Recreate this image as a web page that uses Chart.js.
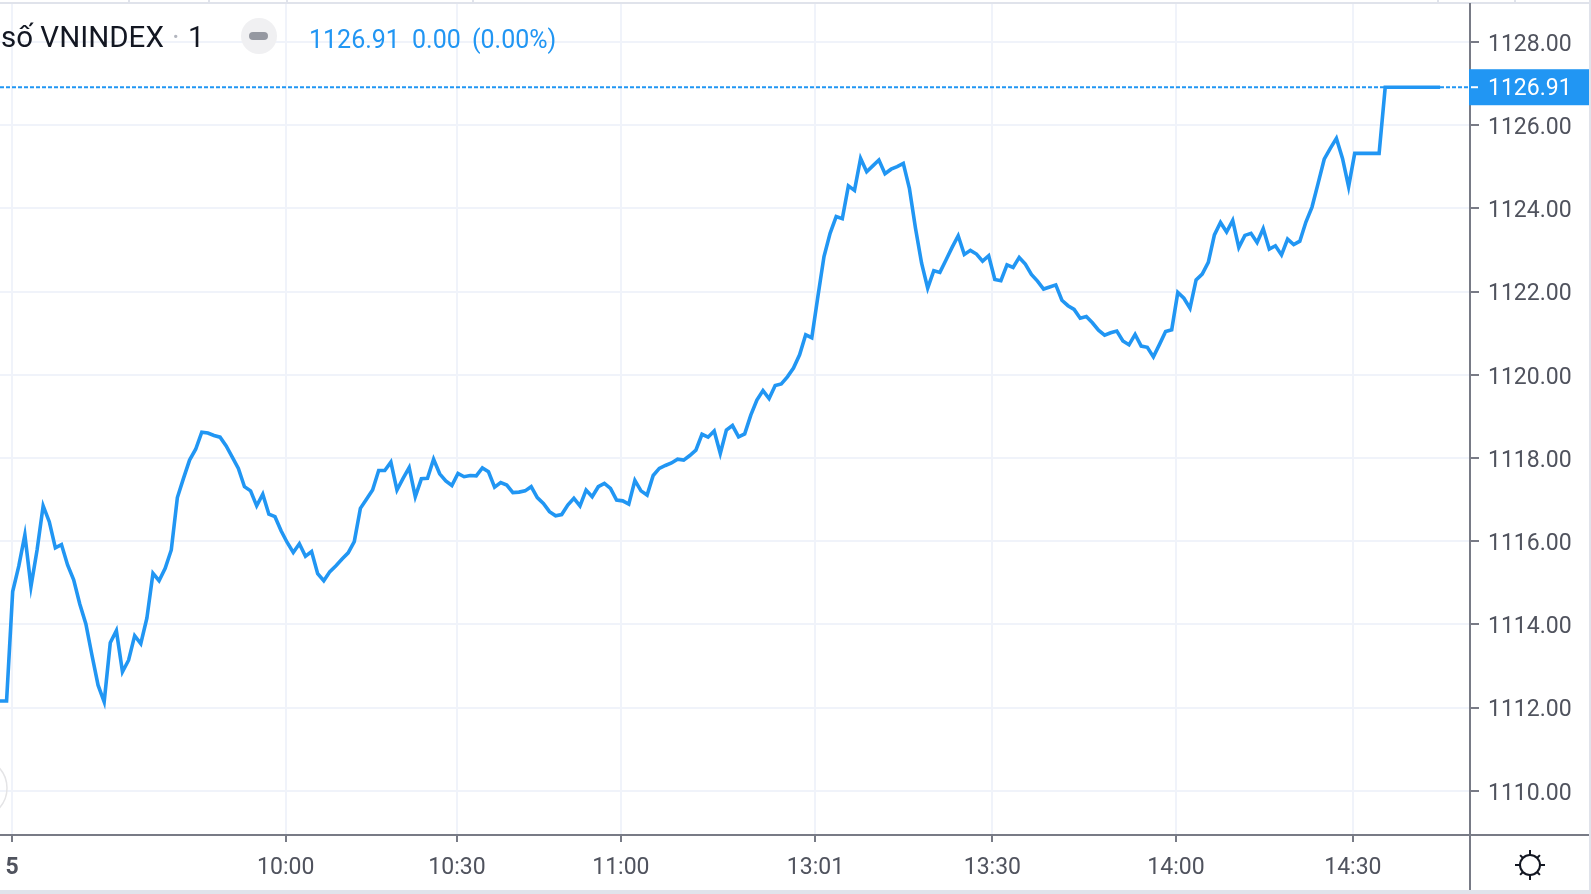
<!DOCTYPE html>
<html>
<head>
<meta charset="utf-8">
<script src="https://cdn.jsdelivr.net/npm/chart.js@4"></script>
<style>
html,body{margin:0;padding:0;background:#fff;overflow:hidden}
#wrap{position:relative;width:1591px;height:894px}
canvas{position:absolute;left:0;top:0}
.t{position:absolute;font-family:Roboto,sans-serif;white-space:pre;line-height:1}
.blue{color:#2196f3;font-size:25px;top:27px}
</style>
</head>
<body>
<div id="wrap">
<canvas id="c" width="1591" height="894"></canvas>
<span class="t" style="left:1px;top:23px;font-size:29.5px;color:#131722">số VNINDEX</span>
<span class="t" style="left:172px;top:23px;font-size:29px;color:#b2b5be">·</span>
<span class="t" style="left:188px;top:23px;font-size:29px;color:#131722">1</span>
<span class="t blue" style="left:309px">1126.91</span>
<span class="t blue" style="left:412px">0.00</span>
<span class="t blue" style="left:472px">(0.00%)</span>
</div>
<script>
const tickLabels = ['5','10:00','10:30','11:00','13:01','13:30','14:00','14:30'];
const tickBars = [-0.1,44.76,72.84,99.7,131.6,160.6,190.7,219.7];
const firstBar = -3;
const closes = [
1112.16,1112.16,1112.16,
1114.79,1115.40,1116.15,1114.91,1115.79,1116.85,1116.47,1115.84,1115.92,1115.43,
1115.07,1114.49,1114.01,1113.26,1112.54,1112.14,1113.56,1113.85,1112.86,1113.14,
1113.73,1113.54,1114.15,1115.23,1115.05,1115.35,1115.79,1117.05,1117.51,1117.95,
1118.21,1118.62,1118.60,1118.54,1118.50,1118.29,1118.02,1117.75,1117.31,1117.21,
1116.85,1117.13,1116.65,1116.59,1116.25,1115.97,1115.73,1115.94,1115.64,1115.75,
1115.22,1115.05,1115.27,1115.41,1115.57,1115.72,1115.99,1116.79,1117.01,1117.23,
1117.70,1117.70,1117.90,1117.23,1117.51,1117.77,1117.07,1117.50,1117.51,1117.97,
1117.62,1117.45,1117.34,1117.63,1117.55,1117.58,1117.57,1117.76,1117.67,1117.30,
1117.41,1117.35,1117.17,1117.18,1117.21,1117.31,1117.05,1116.91,1116.71,1116.61,
1116.64,1116.87,1117.03,1116.85,1117.23,1117.07,1117.31,1117.39,1117.27,1116.99,
1116.97,1116.89,1117.46,1117.21,1117.11,1117.58,1117.75,1117.82,1117.88,1117.97,
1117.95,1118.06,1118.19,1118.57,1118.50,1118.65,1118.11,1118.67,1118.78,1118.51,
1118.58,1119.03,1119.39,1119.62,1119.43,1119.74,1119.78,1119.95,1120.16,1120.48,
1120.96,1120.89,1121.88,1122.84,1123.40,1123.80,1123.75,1124.54,1124.43,1125.20,
1124.88,1125.02,1125.16,1124.83,1124.94,1125.00,1125.08,1124.48,1123.52,1122.68,
1122.08,1122.50,1122.46,1122.76,1123.06,1123.34,1122.89,1122.99,1122.90,1122.73,
1122.86,1122.29,1122.26,1122.64,1122.58,1122.82,1122.66,1122.41,1122.25,1122.06,
1122.11,1122.16,1121.79,1121.66,1121.57,1121.36,1121.40,1121.25,1121.07,1120.95,
1121.01,1121.05,1120.81,1120.72,1120.97,1120.69,1120.66,1120.43,1120.73,1121.04,
1121.08,1121.98,1121.84,1121.60,1122.28,1122.42,1122.70,1123.36,1123.66,1123.43,
1123.71,1123.06,1123.35,1123.40,1123.18,1123.51,1123.02,1123.10,1122.88,1123.26,
1123.13,1123.21,1123.67,1124.03,1124.60,1125.18,1125.44,1125.68,1125.20,1124.52,
1125.32,1125.32,1125.32,1125.32,1125.32,
1126.91,1126.91,1126.91,1126.91,1126.91,1126.91,1126.91,1126.91,1126.91,1126.91
];
const lastPrice = 1126.91;
const xMin = -2.077, xMax = 238.9;
const yMin = 1108.94, yMax = 1128.91;

const BLUE='#2196f3', AXIS='#787b86', GRID='#f0f3fa', EDGE='#e0e3eb', TXT='#50535e';
const FONT='Roboto, sans-serif';

const noPad = s => { s.paddingLeft=0; s.paddingRight=0; s.paddingTop=0; s.paddingBottom=0; };
// nudge the price-axis labels down so the digits sit centred on their grid lines
const nudgeLabels = (s,dy) => {
  if (s._nudged) return;
  s._nudged = true;
  const orig = s._computeLabelItems.bind(s);
  s._computeLabelItems = a => orig(a).map(it => {
    it.options.translation = [it.options.translation[0], it.options.translation[1]+dy];
    return it;
  });
};

const chrome = {
  id:'chrome',
  beforeDraw(ch){
    const g=ch.ctx; g.save();
    g.fillStyle=EDGE;
    g.fillRect(0,2,1589,2);
    [128,208,286,472,1437,1514].forEach(x=>g.fillRect(x,0,2,3));
    g.fillRect(1589,0,2,894);
    g.fillRect(0,890,1591,4);
    g.restore();
  },
  afterDraw(ch){
    const g=ch.ctx, a=ch.chartArea, y=ch.scales.y.getPixelForValue(lastPrice);
    g.save();
    g.fillStyle=AXIS;
    g.fillRect(a.right-1,a.bottom-1,120,2);
    g.fillRect(a.right-1,a.bottom,2,55);
    g.fillStyle=BLUE;
    g.fillRect(1469,y-18,120,36);
    g.fillStyle='#fff';
    g.fillRect(1471,y-1,7,2);
    g.font='23px '+FONT; g.textAlign='left'; g.textBaseline='alphabetic';
    g.fillText(lastPrice.toFixed(2),1488,y+8);
    // collapse button
    g.fillStyle='#f0f0f2';
    g.beginPath(); g.arc(259,36,18,0,Math.PI*2); g.fill();
    g.fillStyle='#9598a1';
    g.beginPath(); g.roundRect(249,32,19,8,4); g.fill();
    // partly hidden round button
    g.strokeStyle='#e4e4e6'; g.lineWidth=1.5;
    g.beginPath(); g.arc(-23,788,30,0,Math.PI*2); g.stroke();
    // settings gear
    const cx=1530,cy=865;
    g.strokeStyle='#131722'; g.lineWidth=2;
    g.beginPath(); g.arc(cx,cy,10,0,Math.PI*2); g.stroke();
    for(let k=0;k<8;k++){
      const t=k*Math.PI/4, r=(k%2)?14:15;
      g.beginPath();
      g.moveTo(cx+Math.cos(t)*10,cy+Math.sin(t)*10);
      g.lineTo(cx+Math.cos(t)*r,cy+Math.sin(t)*r);
      g.stroke();
    }
    g.restore();
  }
};

new Chart(document.getElementById('c'),{
  type:'line',
  plugins:[chrome],
  data:{datasets:[
    {data:closes.map((v,i)=>({x:i+firstBar,y:v})),borderColor:BLUE,borderWidth:3.6,pointRadius:0,tension:0,order:1,borderJoinStyle:'miter'},
    {data:[{x:xMin,y:lastPrice},{x:xMax,y:lastPrice}],borderColor:BLUE,borderWidth:2,borderDash:[4,2],pointRadius:0,order:2}
  ]},
  options:{
    responsive:false,animation:false,
    layout:{padding:{top:4,left:0,right:0,bottom:0}},
    plugins:{legend:{display:false},tooltip:{enabled:false},title:{display:false}},
    scales:{
      x:{
        type:'linear',position:'bottom',min:xMin,max:xMax,
        afterBuildTicks(s){s.ticks=tickBars.map(v=>({value:v}));},
        afterFit(s){s.height=59; noPad(s);},
        grid:{color:GRID,lineWidth:2,tickColor:AXIS,tickLength:7,tickWidth:2},
        border:{display:true,color:AXIS,width:2},
        ticks:{autoSkip:false,maxRotation:0,padding:12,color:TXT,
          font:c=>({family:FONT,size:23,weight:c.index===0?'bold':'normal'}),
          callback:(v,i)=>tickLabels[i]}
      },
      y:{
        type:'linear',position:'right',min:yMin,max:yMax,
        afterFit(s){s.width=121; noPad(s); nudgeLabels(s,3);},
        grid:{color:GRID,lineWidth:2,tickColor:AXIS,tickLength:9,tickWidth:2},
        border:{display:true,color:AXIS,width:2},
        ticks:{stepSize:2,includeBounds:false,padding:9,color:TXT,font:{family:FONT,size:23},
          callback:v=>v.toFixed(2)}
      }
    }
  }
});
</script>
</body>
</html>
